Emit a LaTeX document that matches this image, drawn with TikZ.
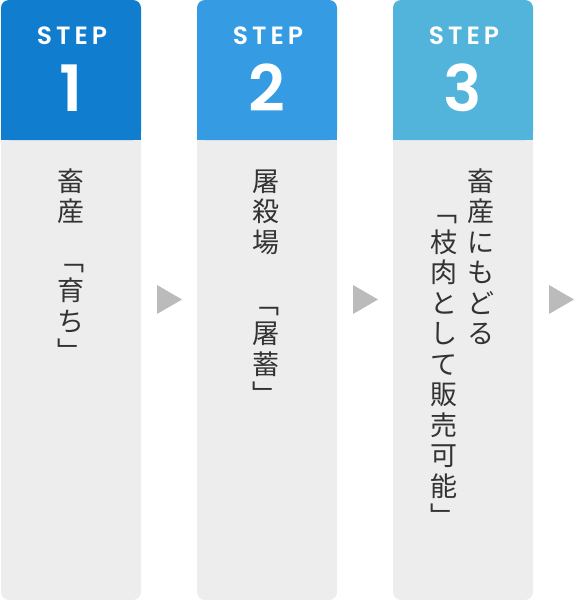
\documentclass[tikz,border=0pt]{standalone}
\usepackage{fontspec}
\setmainfont{Poppins}
\newfontfamily\jpfont{Noto Sans CJK JP}
\newfontfamily\stepfont[LetterSpace=16]{Poppins SemiBold}
\newfontfamily\numfont{Poppins SemiBold}
\usepackage{xcolor}
\usepackage{tikz}
\usetikzlibrary{positioning}

\definecolor{stepone}{HTML}{117DCF}
\definecolor{steptwo}{HTML}{359CE3}
\definecolor{stepthree}{HTML}{52B4DA}
\definecolor{panelgray}{HTML}{EDEDED}
\definecolor{arrowgray}{HTML}{BBBBBB}
\definecolor{textgray}{HTML}{333333}

\tikzset{
  steplabel/.style = {text = white, inner sep = 0pt,
    font = \stepfont\fontsize{25}{25}\selectfont},
  numlabel/.style = {text = white, inner sep = 0pt,
    font = \numfont\fontsize{64}{64}\selectfont},
  jptext/.style = {text = textgray, inner sep = 0pt, align = center, anchor = north,
    font = \jpfont\fontsize{27}{30.5}\selectfont}
}

\newcommand{\firstrow}{\rule{0pt}{23.5pt}}

\begin{document}
\begin{tikzpicture}[x = 1pt, y = -1pt]
        \useasboundingbox (0, 0) rectangle (575, 600);

        % panels
        \fill[panelgray, rounded corners = 8pt] (1, 0) rectangle (141, 600);
        \fill[stepone, rounded corners = 8pt] (1, 0) rectangle (141, 140);
        \fill[stepone] (1, 120) rectangle (141, 140);

        \fill[panelgray, rounded corners = 8pt] (197, 0) rectangle (337, 600);
        \fill[steptwo, rounded corners = 8pt] (197, 0) rectangle (337, 140);
        \fill[steptwo] (197, 120) rectangle (337, 140);

        \fill[panelgray, rounded corners = 8pt] (393, 0) rectangle (533, 600);
        \fill[stepthree, rounded corners = 8pt] (393, 0) rectangle (533, 140);
        \fill[stepthree] (393, 120) rectangle (533, 140);

        % arrows
        \fill[arrowgray] (157, 285) -- (182, 299.5) -- (157, 314) -- cycle;
        \fill[arrowgray] (353, 285) -- (378, 299.5) -- (353, 314) -- cycle;
        \fill[arrowgray] (549, 285) -- (574, 299.5) -- (549, 314) -- cycle;

        % headers
        \node[steplabel] (step1) at (72, 36) {STEP};
        \node[numlabel] (num1) at (71, 88) {1};
        \node[steplabel] (step2) at (268, 36) {STEP};
        \node[numlabel] (num2) at (267, 88) {2};
        \node[steplabel] (step3) at (464, 36) {STEP};
        \node[numlabel] (num3) at (463, 88) {3};

        % texts
        \node[jptext] (text1) at (71, 167.5)
            {\firstrow 畜\\産\\[18pt]﹁\\育\\ち\\﹂};
        \node[jptext] (text2) at (266, 167.5)
            {\firstrow 屠\\殺\\場\\[30.5pt]﹁\\屠\\蓄\\﹂};
        \node[jptext] (text3a) at (481, 167.5)
            {\firstrow 畜\\産\\に\\も\\ど\\る};
        \node[jptext] (text3b) at (444, 198)
            {\firstrow ﹁\\枝\\肉\\と\\し\\て\\販\\売\\可\\能\\﹂};
\end{tikzpicture}
\end{document}
